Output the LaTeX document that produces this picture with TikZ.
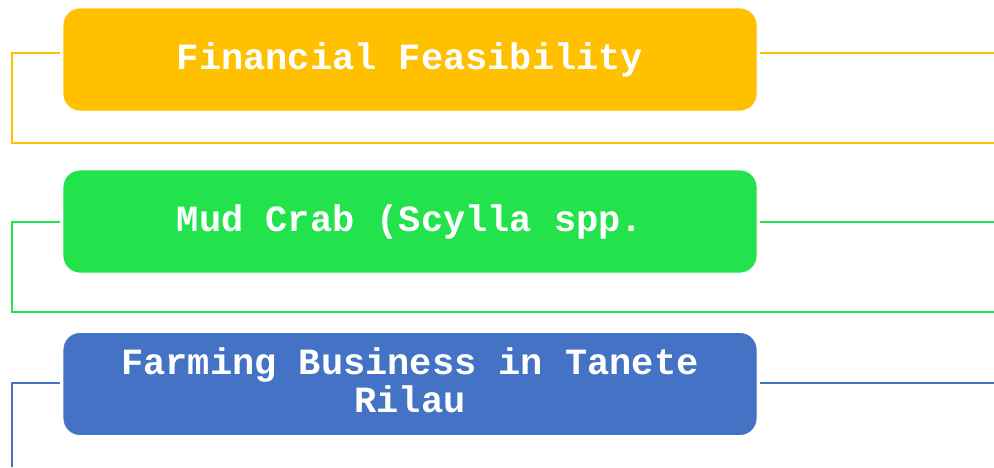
\documentclass[tikz,border=0pt]{standalone}
\usepackage{fontspec}
\setmonofont{Liberation Mono}
\definecolor{finorange}{HTML}{FFC000}
\definecolor{crabgreen}{HTML}{23E34C}
\definecolor{farmblue}{HTML}{4472C4}
\begin{document}
\begin{tikzpicture}[x=1pt,y=-1pt,every node/.style={font=\ttfamily\bfseries\fontsize{37}{38}\selectfont},
  cell/.style={draw=white,line width=0.8pt,rounded corners=17pt,minimum width=694pt,minimum height=103pt,
    inner sep=0pt,align=center,text=white},
  link/.style={line width=2.2pt}]
  \useasboundingbox (0,0) rectangle (994,467);
  % the three boxes
  \node[cell,fill=finorange] (fin) at (410,59.5) {Financial Feasibility};
  \node[cell,fill=crabgreen] (crab) at (410,221.5) {Mud Crab (Scylla spp.};
  \node[cell,fill=farmblue] (farm) at (410,384) {Farming Business in Tanete\\Rilau\rule[-8pt]{0pt}{0pt}};
  % bracket corners
  \coordinate (fin-in) at (12,53);    \coordinate (fin-out) at (994,143);
  \coordinate (crab-in) at (12,222);  \coordinate (crab-out) at (994,312);
  \coordinate (farm-in) at (12,383);  \coordinate (farm-out) at (994,467);
  \draw[link,finorange] ([xshift=-3pt]fin.west |- fin-in) -- (fin-in) |- (fin-out);
  \draw[link,finorange] ([xshift=3pt]fin.east |- fin-in) -- (fin-out |- fin-in);
  \draw[link,crabgreen] ([xshift=-3pt]crab.west |- crab-in) -- (crab-in) |- (crab-out);
  \draw[link,crabgreen] ([xshift=3pt]crab.east |- crab-in) -- (crab-out |- crab-in);
  \draw[link,farmblue] ([xshift=-3pt]farm.west |- farm-in) -- (farm-in) -- (farm-in |- farm-out);
  \draw[link,farmblue] ([xshift=3pt]farm.east |- farm-in) -- (farm-out |- farm-in);
\end{tikzpicture}
\end{document}
